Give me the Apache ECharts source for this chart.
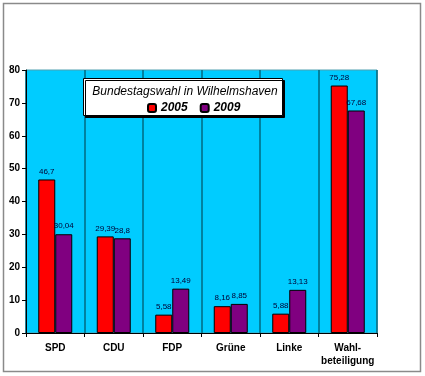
<!DOCTYPE html>
<html>
<head>
<meta charset="utf-8">
<script src="https://cdn.jsdelivr.net/npm/echarts@6/dist/echarts.min.js"></script>
<style>
  html, body { margin: 0; padding: 0; background: #fff; }
  #chart { width: 425px; height: 376px; }
</style>
</head>
<body>
<div id="chart"></div>
<script>
  const categories = ['SPD', 'CDU', 'FDP', 'Grüne', 'Linke', 'Wahl-\nbeteiligung']
  const values2005 = [46.7, 29.39, 5.58, 8.16, 5.88, 75.28]
  const values2009 = [30.04, 28.8, 13.49, 8.85, 13.13, 67.68]
  const yTicks = { min: 0, max: 80, interval: 10 }

  const font = 'Arial, "Liberation Sans", sans-serif'
  const fmt = (p) => String(p.value).replace('.', ',')

  const chart = echarts.init(document.getElementById('chart'))

  const barLabel = {
    show: true,
    position: 'top',
    distance: 4,
    fontSize: 8,
    fontFamily: font,
    color: '#000033',
    formatter: fmt,
  }

  chart.setOption({
    animation: false,
    textStyle: { fontFamily: font },
    graphic: [
      // outer frame
      {
        type: 'rect',
        shape: { x: 3.5, y: 3.5, width: 417, height: 368 },
        style: { fill: 'none', stroke: '#8a8a8a', lineWidth: 1.5 },
        z: 1,
      },
      // legend box
      {
        type: 'rect',
        shape: { x: 83.5, y: 78.5, width: 199, height: 37 },
        style: {
          fill: '#fff',
          stroke: '#000',
          lineWidth: 1,
          shadowColor: '#000',
          shadowOffsetX: 2,
          shadowOffsetY: 2,
        },
        z: 3,
      },
    ],
    title: {
      text: 'Bundestagswahl in Wilhelmshaven',
      left: 180,
      textAlign: 'center',
      top: 81,
      textStyle: {
        fontSize: 12,
        fontStyle: 'italic',
        fontWeight: 'normal',
        color: '#000',
        fontFamily: font,
      },
      z: 6,
    },
    legend: {
      data: ['2005', '2009'],
      left: 142,
      top: 97,
      itemWidth: 8,
      itemHeight: 8,
      itemGap: 12,
      textStyle: {
        fontSize: 12,
        fontStyle: 'italic',
        fontWeight: 'bold',
        color: '#000',
        fontFamily: font,
      },
      z: 6,
    },
    grid: {
      left: 26,
      right: 48,
      top: 70,
      bottom: 43,
      show: true,
      backgroundColor: '#00CCFF',
      borderColor: '#50a0b0',
      borderWidth: 1,
    },
    xAxis: {
      type: 'category',
      data: categories,
      axisLine: { lineStyle: { color: '#000', width: 1 } },
      axisTick: { show: true, interval: 0, length: 4, lineStyle: { color: '#000' } },
      splitLine: { show: true, interval: 0, lineStyle: { color: '#006a80', width: 1.5 } },
      axisLabel: {
        interval: 0,
        fontSize: 10,
        fontWeight: 'bold',
        color: '#000',
        margin: 9,
        lineHeight: 13,
        fontFamily: font,
      },
    },
    yAxis: {
      type: 'value',
      min: yTicks.min,
      max: yTicks.max,
      interval: yTicks.interval,
      axisLine: { show: true, lineStyle: { color: '#000' } },
      axisTick: { show: true, length: 4, lineStyle: { color: '#000' } },
      splitLine: { show: false },
      axisLabel: {
        fontSize: 10,
        fontWeight: 'bold',
        color: '#000',
        margin: 6,
        fontFamily: font,
      },
    },
    series: [
      {
        name: '2005',
        type: 'bar',
        data: values2005,
        barWidth: 17,
        barGap: '0%',
        itemStyle: { color: '#FF0000', borderColor: '#000', borderWidth: 1 },
        label: barLabel,
      },
      {
        name: '2009',
        type: 'bar',
        data: values2009,
        barWidth: 17,
        itemStyle: { color: '#800080', borderColor: '#000', borderWidth: 1 },
        label: barLabel,
      },
    ],
  })
</script>
</body>
</html>
